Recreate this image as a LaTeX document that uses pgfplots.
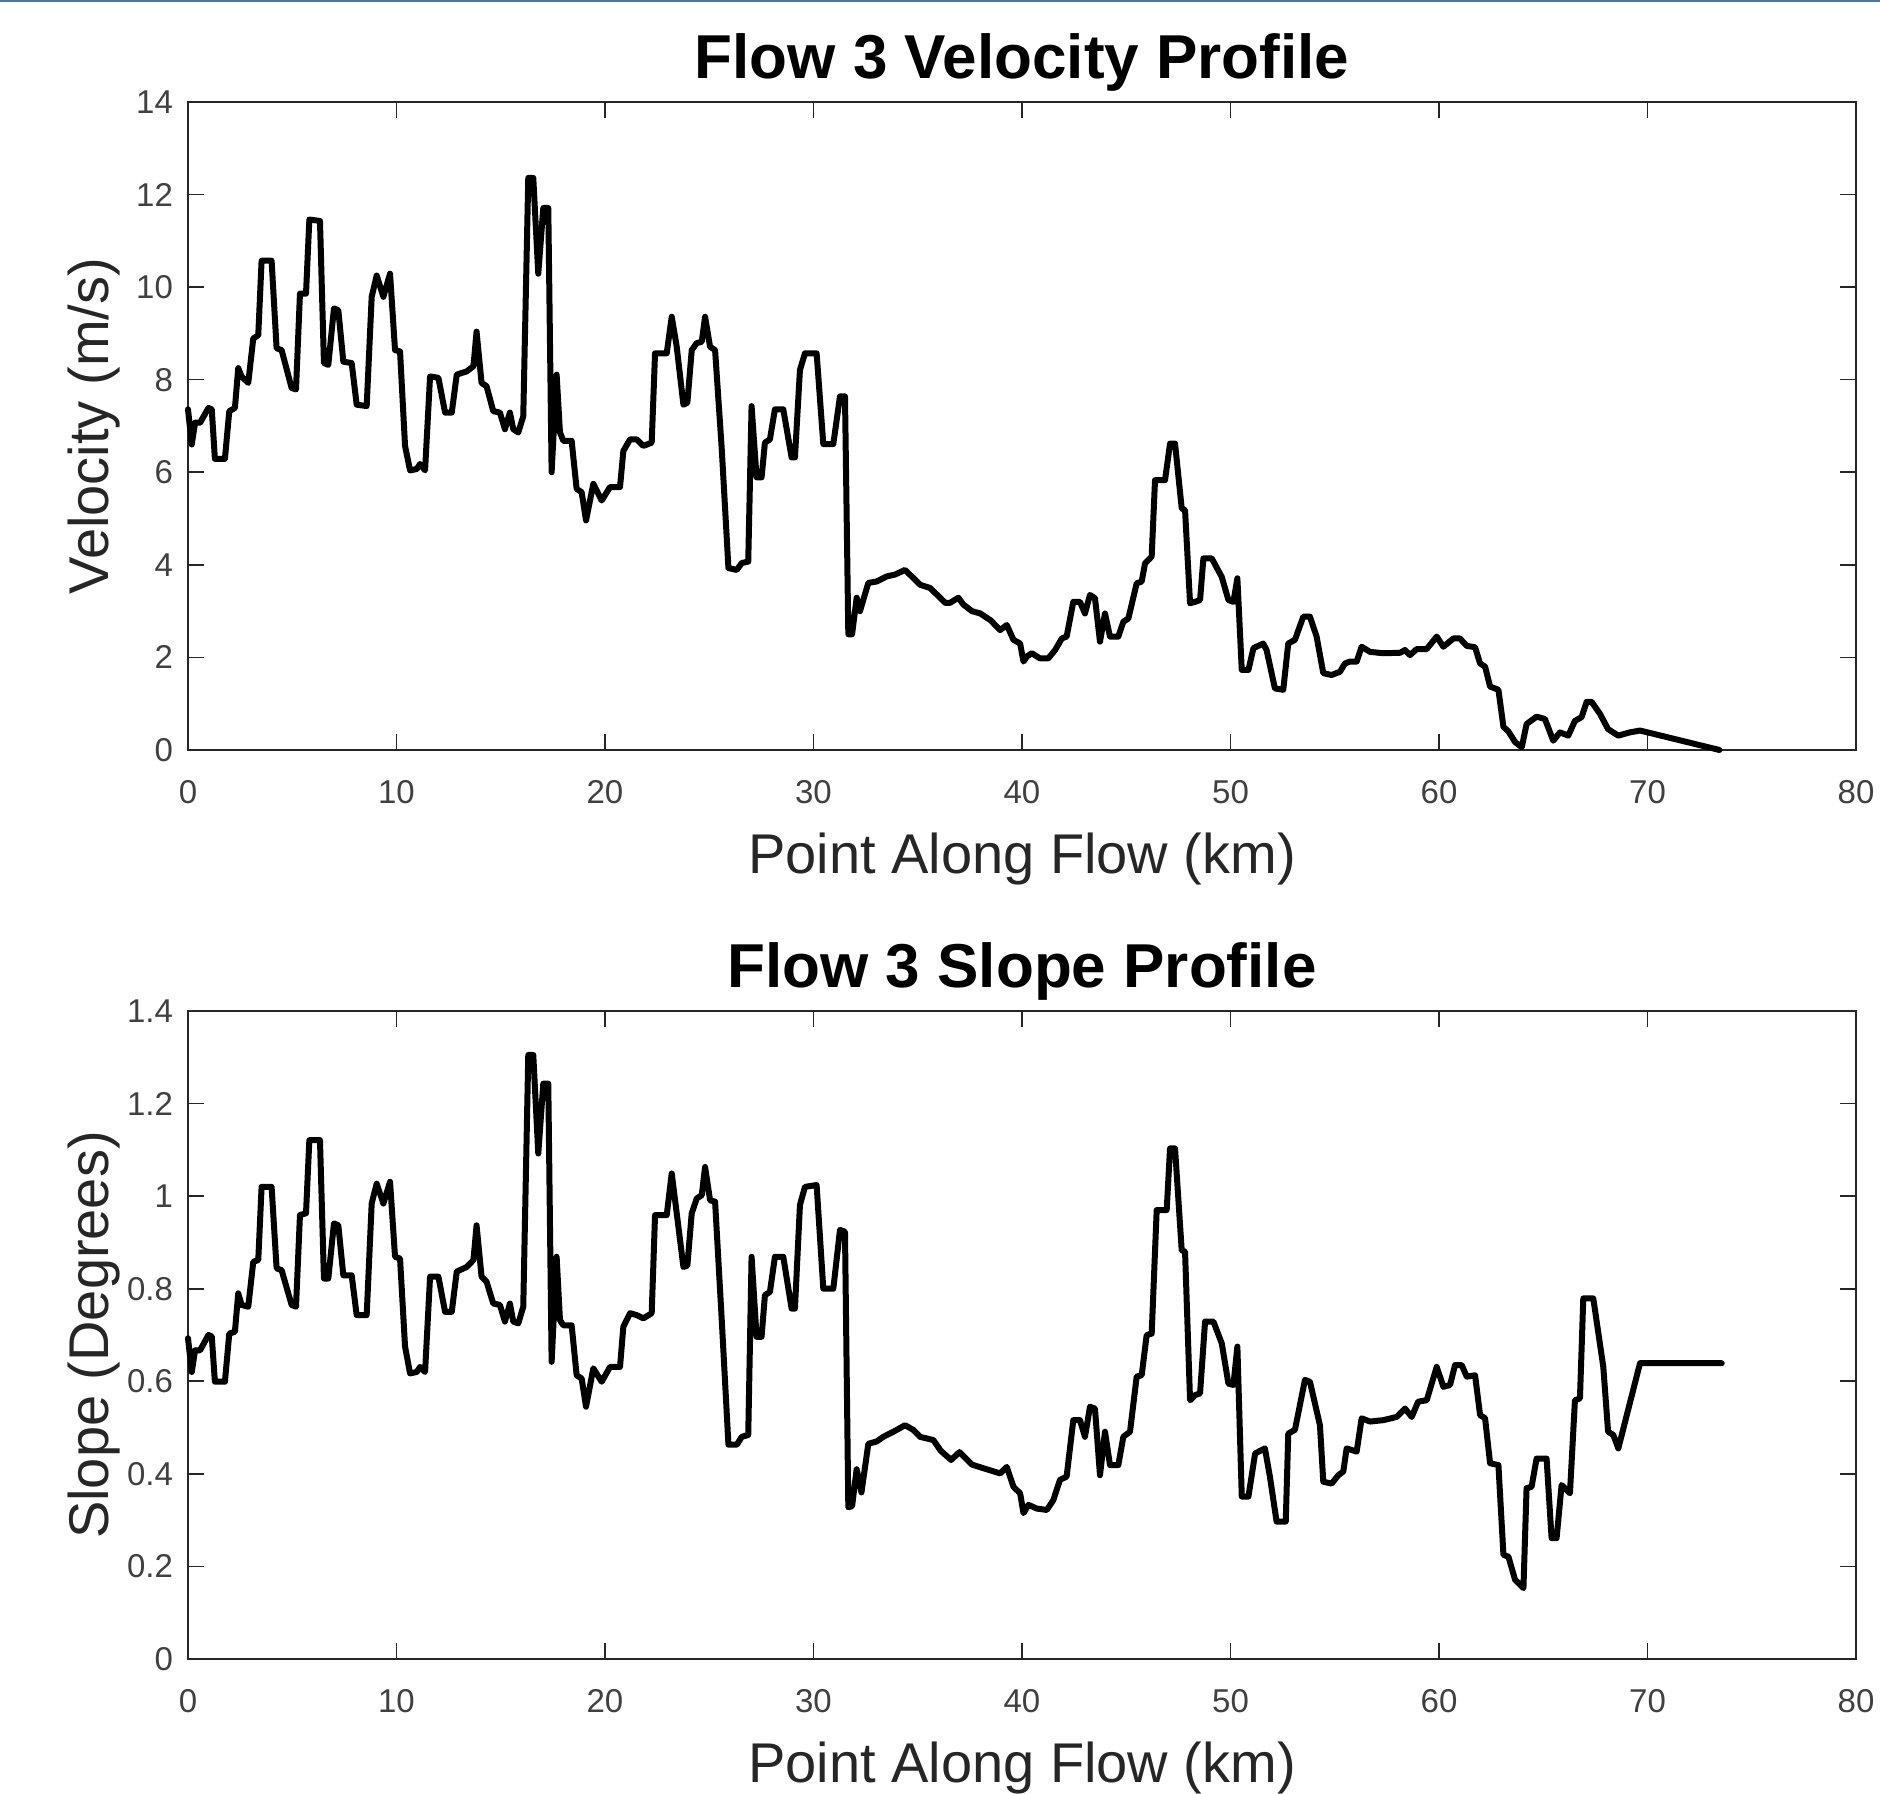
\documentclass[border=0pt]{standalone}
\usepackage{fontspec}
\setmainfont{Liberation Sans}
\usepackage{pgfplots}
\pgfplotsset{compat=1.18}
\definecolor{axgray}{rgb}{0.15,0.15,0.15}
\definecolor{ticklab}{rgb}{0.25,0.25,0.25}
\definecolor{topblue}{rgb}{0.33,0.45,0.62}

\begin{document}
\begin{tikzpicture}
\useasboundingbox (0,0) rectangle (940pt,897pt);
\pgfplotsset{
  myaxis/.style={
    scale only axis,
    width=834pt, height=324pt,
    anchor=south west,
    xmin=0, xmax=80,
    xtick={0,10,20,30,40,50,60,70,80},
    axis line style={draw=axgray, line width=0.8pt},
    every tick/.style={draw=axgray, line width=0.8pt},
    major tick length=8pt,
    tick align=inside,
    clip=false,
    /pgf/number format/assume math mode=true,
    tick label style={font=\fontsize{16.5}{20}\selectfont, text=ticklab},
    xticklabel style={yshift=-11.5pt},
    yticklabel style={xshift=-4pt},
    label style={font=\fontsize{28}{34}\selectfont, text=axgray},
    xlabel style={at={(axis description cs:0.5,-0.168)}, anchor=center},
    ylabel style={at={(axis description cs:-0.0566,0.5)}, anchor=center},
    title style={at={(axis description cs:0.5,1.043)}, anchor=center, font=\bfseries\fontsize{31}{37}\selectfont, text=black},
    xlabel={Point Along Flow (km)},
  },
  myline/.style={black, line width=3pt, line join=round, line cap=round, mark=none},
}

\begin{axis}[myaxis, at={(94pt,522pt)},
  ymin=0, ymax=14, ytick={0,2,4,6,8,10,12,14},
  ylabel={Velocity (m/s)},
  title={Flow 3 Velocity Profile}]
\addplot[myline] coordinates {
(0,7.36) (0.18,6.6) (0.34,7.07) (0.58,7.07) (0.98,7.39) (1.14,7.36) (1.29,6.29) (1.77,6.29)
(1.98,7.32) (2.25,7.39) (2.41,8.25) (2.57,8.07) (2.89,7.93) (3.13,8.89) (3.37,8.96) (3.53,10.57)
(4.01,10.57) (4.25,8.68) (4.49,8.64) (4.97,7.82) (5.18,7.79) (5.37,9.86) (5.66,9.86) (5.82,11.46)
(6.33,11.43) (6.52,8.36) (6.73,8.32) (7.00,9.54) (7.21,9.50) (7.45,8.39) (7.85,8.36) (8.09,7.46)
(8.57,7.43) (8.81,9.79) (9.05,10.25) (9.37,9.79) (9.69,10.29) (9.93,8.64) (10.17,8.61) (10.41,6.57)
(10.65,6.04) (10.97,6.07) (11.13,6.18) (11.37,6.04) (11.61,8.07) (12.01,8.04) (12.33,7.29) (12.65,7.29)
(12.89,8.11) (13.37,8.18) (13.69,8.29) (13.84,9.04) (14.08,7.93) (14.32,7.86) (14.64,7.32) (14.96,7.29)
(15.20,6.93) (15.44,7.29) (15.60,6.93) (15.84,6.86) (16.08,7.21) (16.32,12.36) (16.56,12.36) (16.80,10.29)
(17.04,11.71) (17.28,11.71) (17.44,6.00) (17.68,8.11) (17.84,6.86) (18.00,6.68) (18.40,6.68) (18.64,5.64)
(18.88,5.57) (19.09,4.96) (19.44,5.75) (19.84,5.39) (20.24,5.68) (20.72,5.68) (20.88,6.46) (21.20,6.71)
(21.52,6.71) (21.84,6.57) (22.24,6.64) (22.40,8.57) (22.96,8.57) (23.20,9.36) (23.44,8.71) (23.76,7.46)
(23.95,7.50) (24.16,8.64) (24.40,8.79) (24.64,8.82) (24.80,9.36) (25.04,8.71) (25.28,8.64) (25.60,6.50)
(25.92,3.93) (26.32,3.89) (26.56,4.04) (26.87,4.07) (27.03,7.43) (27.27,5.89) (27.51,5.89) (27.67,6.64)
(27.91,6.71) (28.15,7.36) (28.55,7.36) (28.95,6.32) (29.11,6.32) (29.35,8.21) (29.59,8.57) (30.15,8.57)
(30.47,6.61) (30.95,6.61) (31.27,7.64) (31.51,7.64) (31.67,2.50) (31.85,2.50) (32.07,3.29) (32.23,3.00)
(32.63,3.61) (33.03,3.64) (33.51,3.75) (33.91,3.79) (34.39,3.89) (34.71,3.75) (35.11,3.57) (35.59,3.50)
(35.91,3.36) (36.31,3.18) (36.55,3.18) (36.95,3.29) (37.19,3.14) (37.60,3.00) (38.00,2.95) (38.50,2.80)
(38.95,2.59) (39.27,2.70) (39.59,2.38) (39.91,2.30) (40.07,1.91) (40.23,2.02) (40.47,2.09) (40.86,1.98)
(41.26,1.98) (41.59,2.16) (41.91,2.41) (42.14,2.45) (42.46,3.20) (42.78,3.20) (43.02,2.95) (43.26,3.35)
(43.50,3.28) (43.74,2.34) (43.98,2.95) (44.22,2.45) (44.62,2.45) (44.86,2.77) (45.10,2.84) (45.50,3.60)
(45.74,3.64) (45.90,4.03) (46.22,4.18) (46.38,5.83) (46.86,5.83) (47.10,6.62) (47.34,6.62) (47.66,5.22)
(47.82,5.18) (48.06,3.17) (48.30,3.20) (48.54,3.24) (48.70,4.14) (49.10,4.14) (49.58,3.74) (49.90,3.24)
(50.14,3.20) (50.33,3.71) (50.54,1.73) (50.86,1.73) (51.10,2.20) (51.57,2.30) (51.73,2.16) (52.13,1.33)
(52.53,1.30) (52.77,2.30) (53.09,2.38) (53.49,2.88) (53.81,2.88) (54.13,2.45) (54.45,1.66) (54.85,1.62)
(55.25,1.69) (55.49,1.87) (55.73,1.91) (56.05,1.91) (56.29,2.23) (56.69,2.12) (57.33,2.09) (58.13,2.10)
(58.37,2.16) (58.61,2.05) (58.93,2.18) (59.41,2.18) (59.89,2.45) (60.21,2.23) (60.69,2.41) (61.00,2.41)
(61.33,2.25) (61.73,2.22) (61.97,1.87) (62.21,1.80) (62.45,1.37) (62.85,1.30) (63.09,0.50) (63.33,0.40)
(63.65,0.17) (63.97,0.06) (64.20,0.56) (64.68,0.72) (65.08,0.67) (65.48,0.20) (65.80,0.38) (66.20,0.31)
(66.52,0.63) (66.84,0.71) (67.08,1.04) (67.32,1.04) (67.72,0.78) (68.11,0.45) (68.60,0.31) (69.15,0.38)
(69.64,0.42) (70.28,0.35) (73.45,0.00)
};
\end{axis}

\begin{axis}[myaxis, at={(94pt,67.5pt)},
  ymin=0, ymax=1.4, ytick={0,0.2,0.4,0.6,0.8,1,1.2,1.4},
  ylabel={Slope (Degrees)},
  title={Flow 3 Slope Profile}]
\addplot[myline] coordinates {
(0,0.693) (0.18,0.62) (0.34,0.667) (0.58,0.667) (0.98,0.70) (1.14,0.697) (1.29,0.599) (1.77,0.599)
(1.98,0.703) (2.25,0.707) (2.41,0.79) (2.57,0.765) (2.89,0.761) (3.13,0.858) (3.37,0.862) (3.53,1.02)
(4.01,1.02) (4.25,0.844) (4.49,0.84) (4.97,0.765) (5.18,0.761) (5.37,0.959) (5.66,0.963) (5.82,1.121)
(6.33,1.121) (6.52,0.822) (6.73,0.822) (7.00,0.941) (7.21,0.937) (7.45,0.829) (7.85,0.829) (8.09,0.743)
(8.57,0.743) (8.81,0.984) (9.05,1.027) (9.37,0.984) (9.69,1.031) (9.93,0.869) (10.17,0.865) (10.41,0.675)
(10.65,0.617) (10.97,0.62) (11.13,0.631) (11.37,0.62) (11.61,0.826) (12.01,0.826) (12.33,0.75) (12.65,0.75)
(12.89,0.837) (13.37,0.847) (13.69,0.862) (13.84,0.937) (14.08,0.826) (14.32,0.815) (14.64,0.768) (14.96,0.765)
(15.20,0.729) (15.44,0.768) (15.60,0.729) (15.84,0.725) (16.08,0.761) (16.32,1.305) (16.56,1.305) (16.80,1.092)
(17.04,1.243) (17.28,1.243) (17.44,0.642) (17.68,0.869) (17.84,0.732) (18.00,0.721) (18.40,0.721) (18.64,0.613)
(18.88,0.606) (19.09,0.545) (19.44,0.628) (19.84,0.599) (20.24,0.631) (20.72,0.631) (20.88,0.718) (21.20,0.747)
(21.52,0.743) (21.84,0.736) (22.24,0.747) (22.40,0.959) (22.96,0.959) (23.20,1.049) (23.44,0.963) (23.76,0.847)
(23.95,0.85) (24.16,0.963) (24.40,0.995) (24.64,1.002) (24.80,1.063) (25.04,0.991) (25.28,0.988) (25.60,0.732)
(25.92,0.463) (26.32,0.463) (26.56,0.48) (26.87,0.484) (27.03,0.869) (27.27,0.696) (27.51,0.696) (27.67,0.786)
(27.91,0.793) (28.15,0.869) (28.55,0.869) (28.95,0.757) (29.11,0.757) (29.35,0.981) (29.59,1.02) (30.15,1.024)
(30.47,0.80) (30.95,0.80) (31.27,0.927) (31.51,0.923) (31.67,0.328) (31.85,0.33) (32.07,0.41) (32.30,0.36)
(32.63,0.465) (33.03,0.47) (33.35,0.48) (33.83,0.491) (34.39,0.505) (34.79,0.495) (35.11,0.48) (35.75,0.473)
(36.10,0.45) (36.60,0.43) (37.00,0.447) (37.60,0.42) (38.30,0.41) (38.95,0.401) (39.27,0.415) (39.59,0.372)
(39.91,0.358) (40.07,0.315) (40.31,0.333) (40.71,0.325) (41.19,0.322) (41.50,0.343) (41.82,0.387) (42.14,0.394)
(42.46,0.516) (42.78,0.516) (43.02,0.48) (43.26,0.545) (43.50,0.541) (43.74,0.397) (43.98,0.491) (44.22,0.419)
(44.62,0.419) (44.86,0.48) (45.18,0.491) (45.50,0.61) (45.74,0.613) (45.98,0.70) (46.22,0.703) (46.46,0.97)
(46.94,0.97) (47.10,1.103) (47.34,1.103) (47.66,0.883) (47.82,0.88) (48.06,0.559) (48.30,0.57) (48.54,0.574)
(48.78,0.729) (49.18,0.729) (49.58,0.682) (49.90,0.595) (50.14,0.592) (50.33,0.675) (50.54,0.351) (50.86,0.351)
(51.18,0.444) (51.65,0.455) (51.89,0.394) (52.21,0.297) (52.65,0.297) (52.77,0.487) (53.09,0.495) (53.57,0.603)
(53.81,0.599) (54.29,0.505) (54.45,0.383) (54.85,0.379) (55.17,0.397) (55.41,0.405) (55.57,0.455) (56.05,0.448)
(56.29,0.52) (56.69,0.513) (57.33,0.516) (57.97,0.523) (58.37,0.541) (58.69,0.523) (59.00,0.556) (59.41,0.559)
(59.89,0.631) (60.21,0.588) (60.53,0.592) (60.77,0.635) (61.09,0.635) (61.33,0.61) (61.73,0.613) (61.97,0.527)
(62.21,0.52) (62.45,0.423) (62.85,0.419) (63.09,0.225) (63.33,0.221) (63.65,0.171) (64.05,0.153) (64.20,0.369)
(64.44,0.372) (64.68,0.433) (65.16,0.433) (65.40,0.261) (65.64,0.261) (65.88,0.376) (66.28,0.358) (66.52,0.559)
(66.76,0.563) (66.92,0.779) (67.40,0.779) (67.88,0.631) (68.11,0.491) (68.36,0.484) (68.60,0.455) (69.64,0.639)
(73.56,0.639)
};
\end{axis}

\draw[topblue, line width=1.2pt] (0,896.4pt) -- (940pt,896.4pt);
\end{tikzpicture}
\end{document}
